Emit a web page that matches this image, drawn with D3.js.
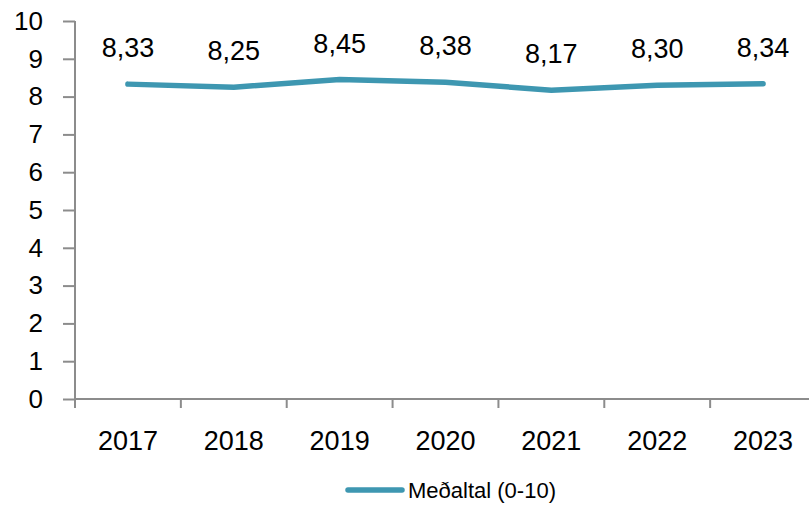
<!DOCTYPE html>
<html>
<head>
<meta charset="utf-8">
<script src="https://cdn.jsdelivr.net/npm/d3@7"></script>
<style>
body { margin: 0; background: #fff; }
text { font-family: "Liberation Sans", Arial, sans-serif; }
</style>
</head>
<body>
<div id="chart"></div>
<script>
var years = ["2017", "2018", "2019", "2020", "2021", "2022", "2023"];
var values = [8.33, 8.25, 8.45, 8.38, 8.17, 8.30, 8.34];
var yTicks = [0, 1, 2, 3, 4, 5, 6, 7, 8, 9, 10];
var seriesName = "Meðaltal (0-10)";

var width = 809, height = 506;
var margin = {top: 21, left: 75, bottom: 107};
var plotW = 741, plotH = height - margin.top - margin.bottom;
var lineColor = "#3e97b1";
var axisColor = "#8c8c8c";

var svg = d3.select("#chart").append("svg")
  .attr("width", width)
  .attr("height", height);

var g = svg.append("g")
  .attr("transform", "translate(" + margin.left + "," + margin.top + ")");

var x = d3.scaleBand().domain(years).range([0, plotW]);
var y = d3.scaleLinear().domain([0, 10]).range([plotH, 0]);

// y axis
var yAxis = g.append("g")
  .call(d3.axisLeft(y).tickValues(yTicks).tickSize(12).tickPadding(20));
yAxis.selectAll("line").attr("stroke", axisColor).attr("stroke-width", 2);
yAxis.select(".domain").attr("stroke", axisColor).attr("stroke-width", 2)
  .attr("d", "M0," + plotH + "V0");
yAxis.selectAll("text").attr("font-size", 26).attr("fill", "#000")
  .attr("font-family", "Liberation Sans, Arial, sans-serif");

// x axis with ticks between categories
var xAxis = g.append("g").attr("transform", "translate(0," + plotH + ")");
xAxis.append("line")
  .attr("x1", 0).attr("x2", plotW)
  .attr("stroke", axisColor).attr("stroke-width", 2);
xAxis.selectAll(".tk")
  .data(years)
  .enter().append("line")
  .attr("x1", d => x(d)).attr("x2", d => x(d))
  .attr("y1", 0).attr("y2", 9)
  .attr("stroke", axisColor).attr("stroke-width", 2);
xAxis.selectAll(".lbl")
  .data(years)
  .enter().append("text")
  .attr("x", d => x(d) + x.bandwidth() / 2)
  .attr("y", 51)
  .attr("text-anchor", "middle")
  .attr("font-size", 27)
  .text(d => d);

// line
var line = d3.line()
  .x((d, i) => x(years[i]) + x.bandwidth() / 2)
  .y(d => y(d));

g.append("path")
  .datum(values)
  .attr("d", line)
  .attr("fill", "none")
  .attr("stroke", lineColor)
  .attr("stroke-width", 5.5)
  .attr("stroke-linecap", "round")
  .attr("stroke-linejoin", "round");

// data labels
g.selectAll(".val")
  .data(values)
  .enter().append("text")
  .attr("x", (d, i) => x(years[i]) + x.bandwidth() / 2)
  .attr("y", d => y(d) - 27)
  .attr("text-anchor", "middle")
  .attr("font-size", 27)
  .text(d => d3.format(".2f")(d).replace(".", ","));

// legend
var leg = svg.append("g").attr("transform", "translate(348,490)");
leg.append("line")
  .attr("x1", 0).attr("x2", 54)
  .attr("stroke", lineColor).attr("stroke-width", 5.5)
  .attr("stroke-linecap", "round");
leg.append("text")
  .attr("x", 60).attr("y", 8)
  .attr("font-size", 22)
  .text(seriesName);
</script>
</body>
</html>
